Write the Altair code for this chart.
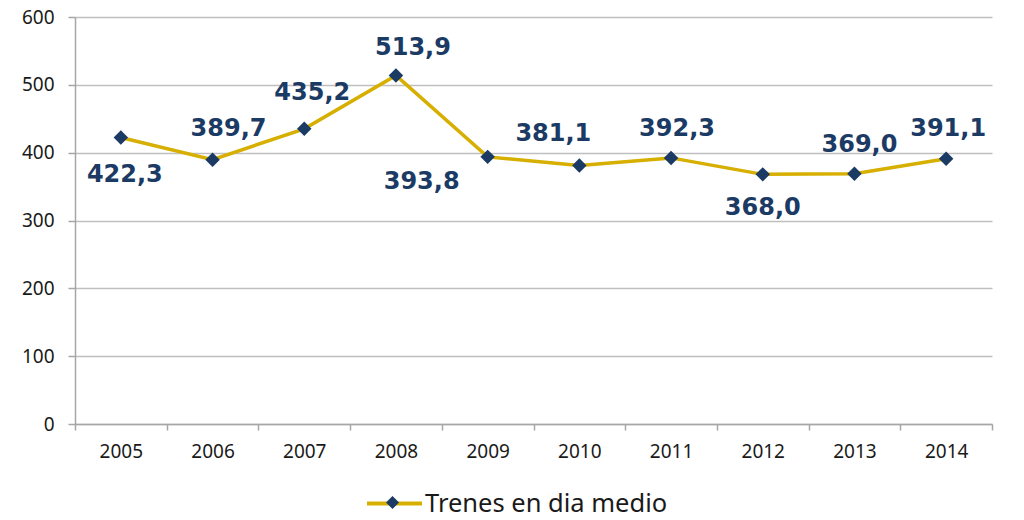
import altair as alt
import pandas as pd

# ---- data ----
years = ["2005", "2006", "2007", "2008", "2009", "2010", "2011", "2012", "2013", "2014"]
trains = [422.3, 389.7, 435.2, 513.9, 393.8, 381.1, 392.3, 368.0, 369.0, 391.1]
y_ticks = [0, 100, 200, 300, 400, 500, 600]
series_name = "Trenes en dia medio"

# ---- style ----
GOLD = "#D6AF00"
NAVY = "#1B3A64"
GRID = "#BFBFBF"
AXIS = "#A6A6A6"
TEXT = "#1A1A1A"
FONT = "Noto Sans"
LABEL_FONT = "DejaVu Sans"

# label placement (pixel offsets from each point)
label_offsets = {
    "2005": (4, 37), "2006": (16, -31), "2007": (8, -36), "2008": (17, -27),
    "2009": (-66, 25), "2010": (-26, -31), "2011": (6, -29), "2012": (0, 34),
    "2013": (5, -29), "2014": (2, -30),
}

df = pd.DataFrame({
    "year": years,
    "value": trains,
    "label": [f"{v:.1f}".replace(".", ",") for v in trains],
    "serie": series_name,
    "serie_pt": series_name,
})

x = alt.X(
    "year:O",
    scale=alt.Scale(type="band", paddingInner=0, paddingOuter=0),
    axis=alt.Axis(title=None, labelAngle=0, tickBand="extent", tickSize=6,
                  labelPadding=12, grid=False),
)
y = alt.Y(
    "value:Q",
    scale=alt.Scale(domain=[0, 600], nice=False),
    axis=alt.Axis(title=None, values=y_ticks, tickSize=7, labelPadding=14,
                  grid=True),
)

base = alt.Chart(df)

line = base.mark_line(strokeWidth=3.5).encode(
    x=x, y=y,
    color=alt.Color("serie:N", scale=alt.Scale(range=[GOLD]),
                    legend=alt.Legend(title=None, orient="none", legendX=290, legendY=457,
                                      symbolType="stroke", symbolStrokeWidth=4,
                                      symbolSize=3025, labelFontSize=25.5, labelFont=FONT,
                                      labelColor=TEXT, labelOffset=1, labelLimit=500,
                                      padding=0)),
)

points = base.mark_point(filled=True, size=210, opacity=1, color=NAVY).encode(
    x=x, y=y,
    shape=alt.Shape("serie_pt:N", scale=alt.Scale(range=["diamond"]),
                    legend=alt.Legend(title=None, orient="none", legendX=306, legendY=474,
                                      symbolSize=170, symbolFillColor=NAVY,
                                      symbolStrokeWidth=0, labelFontSize=23,
                                      labelFont=FONT, labelExpr="''", padding=0)),
)

labels = []
for yr in years:
    dx, dy = label_offsets[yr]
    labels.append(
        base.transform_filter(alt.datum.year == yr)
        .mark_text(dx=dx, dy=dy, fontSize=24, fontWeight="bold", font=LABEL_FONT,
                   color=NAVY, align="center", baseline="middle")
        .encode(x=x, y=y, text="label:N")
    )

chart = (
    alt.layer(line, points, *labels)
    .resolve_legend(color="independent", shape="independent")
    .properties(
        width=917, height=407,
        autosize=alt.AutoSizeParams(type="none"),
        padding={"left": 67, "top": 9, "right": 24, "bottom": 88},
    )
    .configure_view(strokeWidth=0)
    .configure_axis(
        labelFont=FONT, labelFontSize=19, labelColor=TEXT,
        domainColor=AXIS, domainWidth=1.5, tickColor=AXIS, tickWidth=1.5,
        gridColor=GRID, gridWidth=1.5,
    )
)

chart.save("out.html", embed_options={"renderer": "svg", "actions": False})
